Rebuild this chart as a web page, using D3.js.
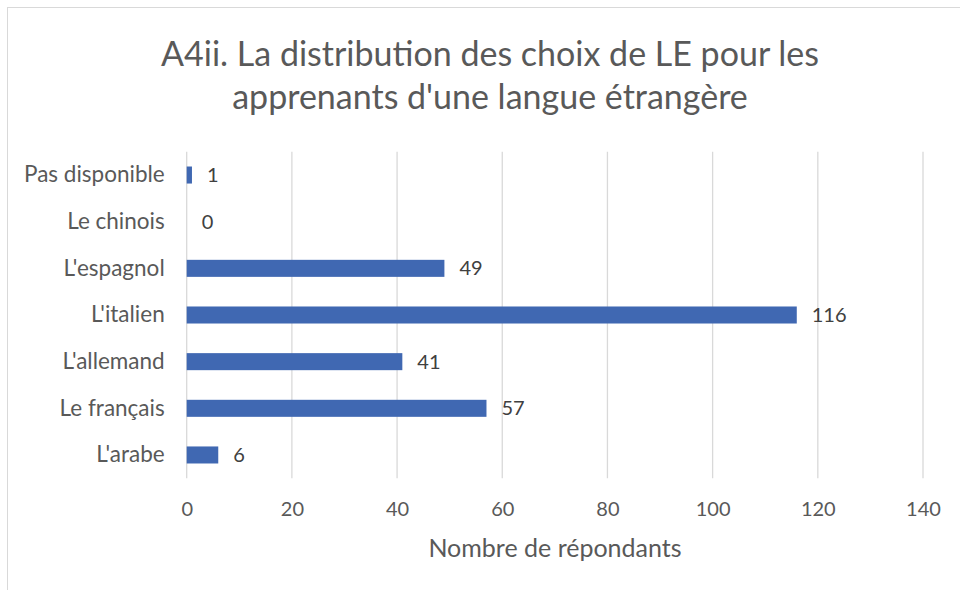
<!DOCTYPE html>
<html><head><meta charset="utf-8">
<script src="https://cdn.jsdelivr.net/npm/d3@7"></script>
<style>body{margin:0;background:#fff}svg{display:block}</style>
</head><body>
<svg id="c" width="960" height="590"></svg>
<script>
const categories = ["Pas disponible","Le chinois","L'espagnol","L'italien","L'allemand","Le français","L'arabe"];
const values = [1,0,49,116,41,57,6];
const xTicks = [0,20,40,60,80,100,120,140];
const titleLines = ["A4ii. La distribution des choix de LE pour les","apprenants d'une langue étrangère"];
const xTitle = "Nombre de répondants";

const svg = d3.select("#c");
const font = "Lato, sans-serif";
const txt = "#595959";
svg.append("rect").attr("x",7.5).attr("y",7.5).attr("width",1000).attr("height",700)
  .attr("fill","#fff").attr("stroke","#d9d9d9").attr("stroke-width",1);

const x = d3.scaleLinear().domain([0,140]).range([186.7,923]);
const y = d3.scaleBand().domain(categories).range([151.7,478.3]).paddingInner(0.635).paddingOuter(0.3175);

svg.append("g").selectAll("text").data(titleLines).join("text")
  .attr("x",490).attr("y",(d,i)=>66+i*43).attr("text-anchor","middle")
  .attr("font-family",font).attr("font-size",34).attr("fill",txt).text(d=>d);

const grid = svg.append("g");
grid.selectAll("line").data(xTicks).join("line")
  .attr("x1",d=>x(d)).attr("x2",d=>x(d)).attr("y1",151.7).attr("y2",478.3)
  .attr("stroke","#d9d9d9").attr("stroke-width",1.3);

const xAxis = d3.axisBottom(x).tickValues(xTicks).tickSize(0).tickPadding(24);
const gx = svg.append("g").attr("transform","translate(0,478.3)").call(xAxis);
gx.select(".domain").remove();
gx.selectAll("text").attr("font-family",font).attr("font-size",20).attr("fill",txt);

const yAxis = d3.axisLeft(y).tickSize(0).tickPadding(22);
const gy = svg.append("g").attr("transform","translate(186.7,0)").call(yAxis);
gy.select(".domain").remove();
gy.selectAll("text").attr("font-family",font).attr("font-size",22.5).attr("fill",txt);

svg.append("g").selectAll("rect").data(values).join("rect")
  .attr("x",x(0)).attr("y",(d,i)=>y(categories[i]))
  .attr("width",d=>x(d)-x(0)).attr("height",y.bandwidth())
  .attr("fill","#4068b2");

svg.append("g").selectAll("text").data(values).join("text")
  .attr("x",d=>x(d)+15).attr("y",(d,i)=>y(categories[i])+y.bandwidth()/2)
  .attr("dy","0.35em").attr("font-family",font).attr("font-size",20).attr("fill","#404040")
  .text(d=>d);

svg.append("text").attr("x",555).attr("y",557).attr("text-anchor","middle")
  .attr("font-family",font).attr("font-size",25).attr("fill",txt).text(xTitle);
</script>
</body></html>
